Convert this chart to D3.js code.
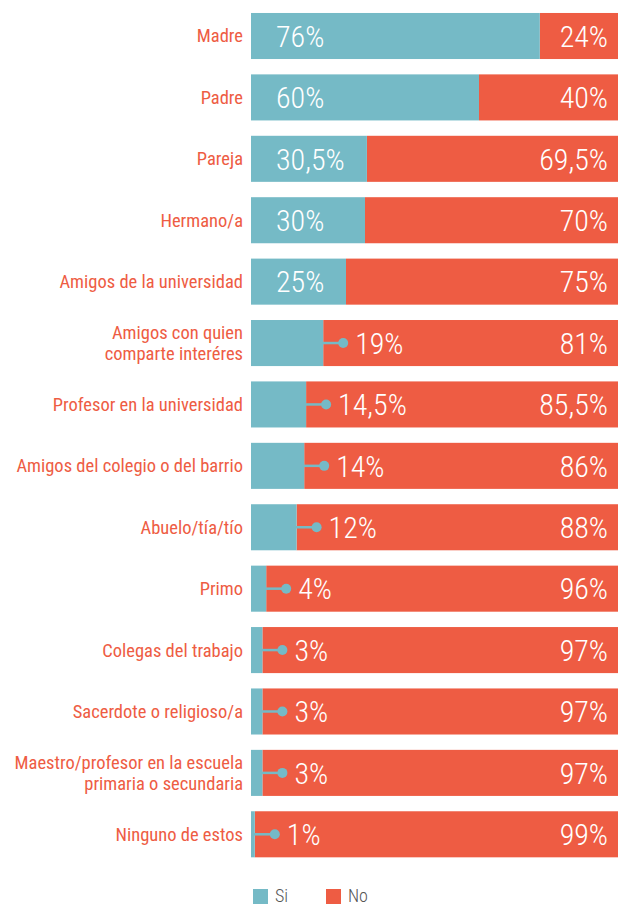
<!DOCTYPE html>
<html>
<head>
<meta charset="utf-8">
<script src="https://cdn.jsdelivr.net/npm/d3@7"></script>
<style>
  body { margin: 0; background: #fff; }
  svg { display: block; font-family: "Liberation Sans Narrow", "Roboto Condensed", "Arial Narrow", sans-serif; }
</style>
</head>
<body>
<div id="chart"></div>
<script>
// categories (multi-line labels split with \n)
const categories = [
  "Madre",
  "Padre",
  "Pareja",
  "Hermano/a",
  "Amigos de la universidad",
  "Amigos con quien\ncomparte interéres",
  "Profesor en la universidad",
  "Amigos del colegio o del barrio",
  "Abuelo/tía/tío",
  "Primo",
  "Colegas del trabajo",
  "Sacerdote o religioso/a",
  "Maestro/profesor en la escuela\nprimaria o secundaria",
  "Ninguno de estos"
];
const siValues = [76, 60, 30.5, 30, 25, 19, 14.5, 14, 12, 4, 3, 3, 3, 1];
const noValues = [24, 40, 69.5, 70, 75, 81, 85.5, 86, 88, 96, 97, 97, 97, 99];
const legendLabels = ["Si", "No"];

const teal = "#75bac6";
const red = "#ee5c43";

const width = 618, height = 905;

const svg = d3.select('#chart')
  .append('svg')
  .attr('width', width)
  .attr('height', height);

const data = categories.map((c, i) => ({cat: c, si: siValues[i], no: noValues[i]}));

// x scale: bars run off the right edge a bit, as in the original
const x = d3.scaleLinear()
  .domain([0, 100])
  .range([251, 631]);

const y = d3.scaleBand()
  .domain(categories)
  .range([5.3, 865])
  .paddingInner(0.25)
  .paddingOuter(0.125);

const fmt = v => String(v).replace('.', ',') + '%';

const rows = svg.append('g')
  .selectAll('g')
  .data(data)
  .enter()
  .append('g')
  .attr('transform', d => `translate(0, ${y(d.cat)})`);

const bh = y.bandwidth();

// No bar (rest of the row)
rows.append('rect')
  .attr('x', d => x(d.si))
  .attr('y', 0)
  .attr('width', d => x(d.si + d.no) - x(d.si))
  .attr('height', bh)
  .style('fill', red);

// Si bar
rows.append('rect')
  .attr('x', x(0))
  .attr('y', 0)
  .attr('width', d => x(d.si) - x(0))
  .attr('height', bh)
  .style('fill', teal);

// small values: callout line + dot
const small = rows.filter(d => d.si < 20);
small.append('line')
  .attr('x1', d => x(d.si) - 1)
  .attr('x2', d => x(d.si) + 20)
  .attr('y1', bh / 2)
  .attr('y2', bh / 2)
  .attr('stroke', teal)
  .attr('stroke-width', 2.5);
small.append('circle')
  .attr('cx', d => x(d.si) + 20)
  .attr('cy', bh / 2)
  .attr('r', 5)
  .style('fill', teal);

// Si labels
rows.append('text')
  .attr('x', d => d.si < 20 ? x(d.si) + 32 : x(0) + 25)
  .attr('y', bh / 2)
  .attr('dy', '0.36em')
  .attr('fill', '#fff')
  .style('font-size', '30px')
  .style('font-weight', 300)
  .text(d => fmt(d.si));

// No labels
rows.append('text')
  .attr('x', 608)
  .attr('y', bh / 2)
  .attr('dy', '0.36em')
  .attr('fill', '#fff')
  .style('font-size', '30px')
  .style('font-weight', 300)
  .style('text-anchor', 'end')
  .text(d => fmt(d.no));

// category labels
const catText = rows.append('text')
  .attr('x', 243)
  .attr('y', bh / 2)
  .attr('fill', red)
  .style('font-size', '18.5px')
  .style('text-anchor', 'end');

catText.each(function(d) {
  const lines = d.cat.split('\n');
  const t = d3.select(this);
  lines.forEach((l, i) => {
    t.append('tspan')
      .attr('x', 243)
      .attr('dy', i === 0 ? `${0.35 - (lines.length - 1) * 0.55}em` : '1.1em')
      .text(l);
  });
});

// legend
const legend = svg.append('g')
  .selectAll('g')
  .data(legendLabels)
  .enter()
  .append('g')
  .attr('transform', (d, i) => `translate(${253 + i * 73}, 889)`);

legend.append('rect')
  .attr('width', 15)
  .attr('height', 15)
  .style('fill', (d, i) => i === 0 ? teal : red);

legend.append('text')
  .attr('x', 22)
  .attr('y', 7)
  .attr('dy', '0.34em')
  .attr('fill', '#555')
  .style('font-size', '18px')
  .style('font-weight', 300)
  .text(d => d);
</script>
</body>
</html>
